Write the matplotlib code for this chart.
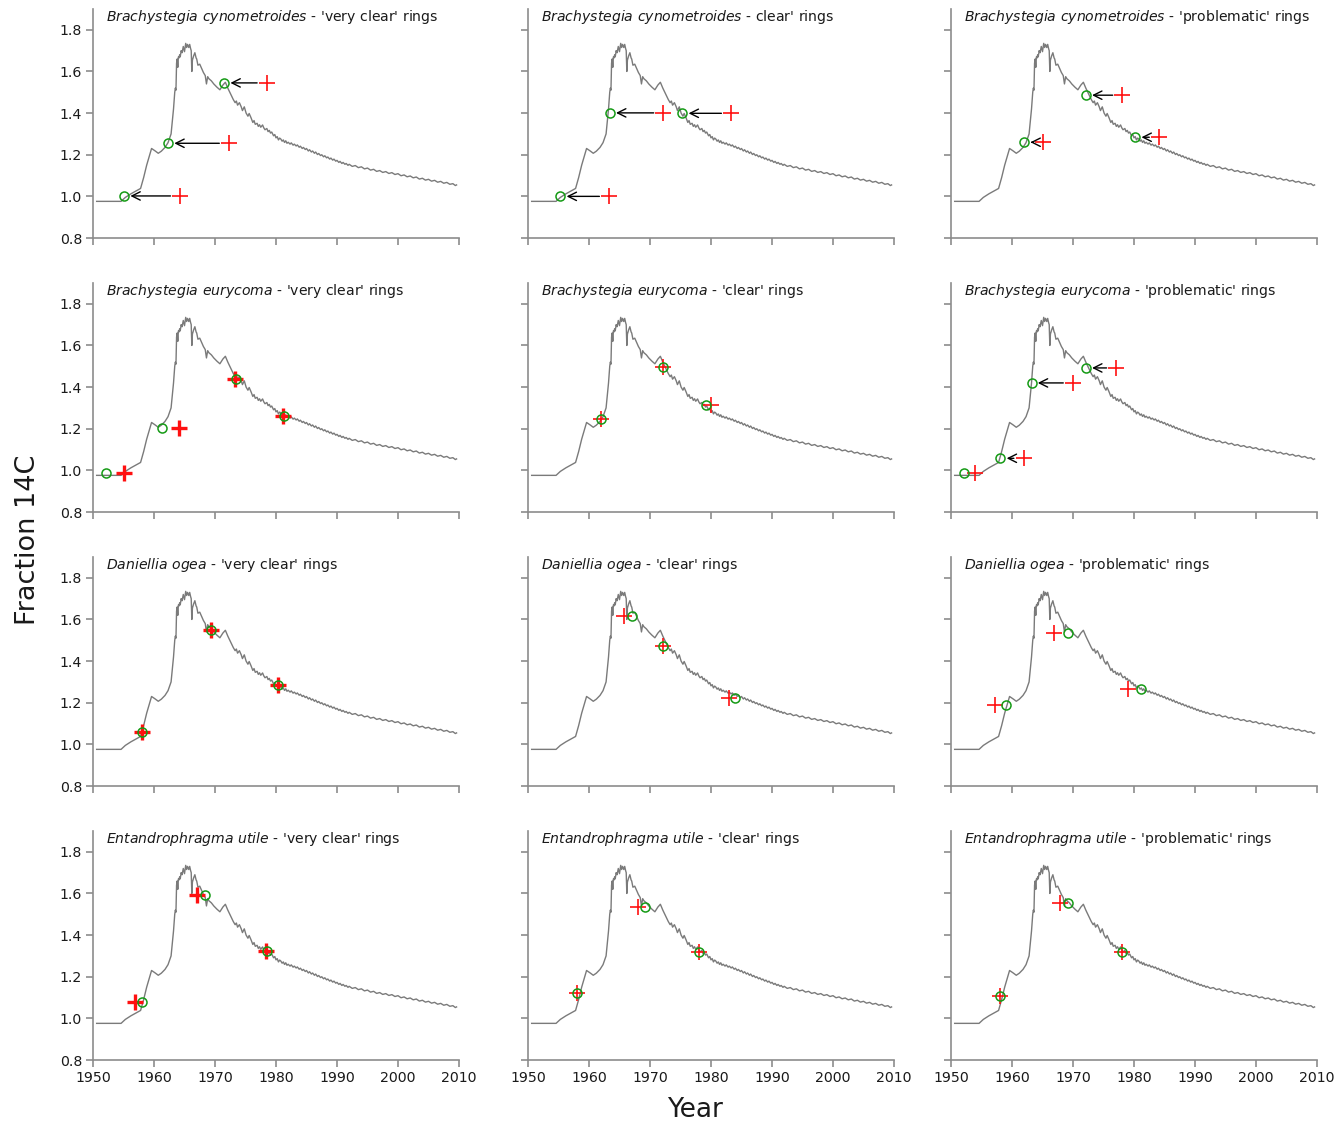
import matplotlib
matplotlib.use("Agg")
import matplotlib.pyplot as plt

# ---------------- atmospheric 14C curve ----------------
curve_year = [1950.6, 1954.6, 1955.3, 1956.2, 1957.0, 1957.8, 1958.3, 1958.8, 1959.3, 1959.6,
              1960.2, 1960.7, 1961.2, 1961.8, 1962.3, 1962.8, 1963.0, 1963.2, 1963.4, 1963.5,
              1963.6, 1963.7, 1963.8, 1963.9, 1964.0, 1964.1, 1964.2, 1964.3, 1964.45, 1964.6,
              1964.8, 1965.0, 1965.2, 1965.35, 1965.5, 1965.7, 1965.85, 1966.0, 1966.1, 1966.2,
              1966.3, 1966.5, 1966.7, 1966.9, 1967.0, 1967.2, 1967.5, 1967.8, 1968.1, 1968.4,
              1968.6, 1968.8, 1969.0, 1969.4, 1969.8, 1970.3, 1970.8, 1971.3, 1971.7, 1972.1,
              1972.6, 1973.0, 1973.3, 1973.5, 1973.7, 1974.0, 1974.3, 1974.5, 1974.8, 1975.1,
              1975.4, 1975.6, 1975.9,
              1976.2, 1976.4, 1976.6, 1976.9, 1977.1, 1977.3, 1977.5, 1977.8, 1978.0, 1978.2,
              1978.5, 1978.7, 1978.9, 1979.1, 1979.3, 1979.6, 1979.8, 1980.0, 1980.2, 1980.4,
              1980.6, 1980.8, 1981.0, 1981.2, 1981.4, 1981.6, 1981.8, 1982.0, 1982.3, 1982.5,
              1982.8, 1983.0, 1983.3, 1983.5, 1983.8, 1984.0, 1984.3, 1984.5, 1984.8, 1985.0,
              1985.3, 1985.5, 1985.8, 1986.0, 1986.3, 1986.5, 1986.8, 1987.0, 1987.3, 1987.5,
              1987.8, 1988.0, 1988.3, 1988.5, 1988.8, 1989.0, 1989.3, 1989.5, 1989.8, 1990.0,
              1990.3, 1990.5, 1990.8, 1991.0, 1991.3, 1991.5, 1991.8, 1992.0, 1992.5, 1993.0,
              1993.5, 1994.0, 1994.5, 1995.0, 1995.5, 1996.0, 1996.5, 1997.0, 1997.5, 1998.0,
              1998.5, 1999.0, 1999.5, 2000.0, 2000.5, 2001.0, 2001.5, 2002.0, 2002.5, 2003.0,
              2003.5, 2004.0, 2004.5, 2005.0, 2005.5, 2006.0, 2006.5, 2007.0, 2007.5, 2008.0,
              2008.5, 2009.0, 2009.4, 2009.6]
curve_f14c = [0.976, 0.976, 0.995, 1.012, 1.025, 1.038, 1.090, 1.150, 1.200, 1.230,
              1.218, 1.207, 1.217, 1.235, 1.258, 1.300, 1.360, 1.420, 1.500, 1.520,
              1.510, 1.640, 1.660, 1.620, 1.670, 1.665, 1.680, 1.670, 1.700, 1.690,
              1.720, 1.695, 1.735, 1.715, 1.730, 1.715, 1.730, 1.710, 1.700, 1.600,
              1.655, 1.675, 1.690, 1.665, 1.660, 1.630, 1.635, 1.615, 1.595, 1.580,
              1.540, 1.575, 1.565, 1.555, 1.540, 1.525, 1.512, 1.535, 1.548, 1.520,
              1.490, 1.465, 1.450, 1.458, 1.438, 1.450, 1.430, 1.412, 1.430, 1.400,
              1.385, 1.398, 1.378,
              1.355, 1.364, 1.346, 1.351, 1.336, 1.344, 1.332, 1.343, 1.329, 1.320,
              1.326, 1.311, 1.317, 1.304, 1.309, 1.291, 1.297, 1.281, 1.287, 1.271,
              1.280, 1.275, 1.265, 1.271, 1.259, 1.267, 1.255, 1.260, 1.251, 1.257,
              1.246, 1.251, 1.242, 1.247, 1.236, 1.241, 1.230, 1.235, 1.225, 1.230,
              1.218, 1.224, 1.213, 1.218, 1.207, 1.213, 1.201, 1.206, 1.196, 1.200,
              1.190, 1.195, 1.185, 1.189, 1.179, 1.184, 1.174, 1.179, 1.169, 1.173,
              1.163, 1.168, 1.158, 1.163, 1.154, 1.158, 1.149, 1.154, 1.144, 1.148,
              1.138, 1.142, 1.132, 1.136, 1.126, 1.130, 1.120, 1.124, 1.115, 1.119,
              1.110, 1.114, 1.105, 1.109, 1.099, 1.103, 1.094, 1.098, 1.089, 1.093,
              1.083, 1.087, 1.078, 1.082, 1.073, 1.077, 1.068, 1.072, 1.063, 1.067,
              1.058, 1.061, 1.052, 1.055]

# ---------------- panel titles ----------------
species = ["Brachystegia cynometroides", "Brachystegia eurycoma",
           "Daniellia ogea", "Entandrophragma utile"]
title_suffix = [
    ["'very clear' rings", "clear' rings", "'problematic' rings"],
    ["'very clear' rings", "'clear' rings", "'problematic' rings"],
    ["'very clear' rings", "'clear' rings", "'problematic' rings"],
    ["'very clear' rings", "'clear' rings", "'problematic' rings"],
]

# ---------------- ring-count dates (+) and curve dates (o) ----------------
# Brachystegia cynometroides
bc_vc_ring_year = [1964.3, 1972.3, 1978.5]
bc_vc_f14c = [1.002, 1.255, 1.545]
bc_vc_curve_year = [1955.1, 1962.3, 1971.5]
bc_vc_arrow = [True, True, True]

bc_c_ring_year = [1963.3, 1972.2, 1983.3]
bc_c_f14c = [1.000, 1.401, 1.399]
bc_c_curve_year = [1955.3, 1963.4, 1975.3]
bc_c_arrow = [True, True, True]

bc_p_ring_year = [1965.1, 1978.1, 1984.1]
bc_p_f14c = [1.260, 1.486, 1.284]
bc_p_curve_year = [1962.0, 1972.1, 1980.2]
bc_p_arrow = [True, True, True]

# Brachystegia eurycoma
be_vc_ring_year = [1955.0, 1964.1, 1973.2, 1981.1]
be_vc_f14c = [0.988, 1.203, 1.438, 1.262]
be_vc_curve_year = [1952.1, 1961.3, 1973.5, 1981.3]
be_vc_arrow = [False, False, False, False]

be_c_ring_year = [1962.0, 1972.1, 1980.0]
be_c_f14c = [1.249, 1.496, 1.312]
be_c_curve_year = [1962.0, 1972.2, 1979.2]
be_c_arrow = [False, False, False]

be_p_ring_year = [1953.9, 1961.9, 1970.0, 1977.1]
be_p_f14c = [0.985, 1.058, 1.420, 1.492]
be_p_curve_year = [1952.2, 1958.1, 1963.2, 1972.1]
be_p_arrow = [False, True, True, True]

# Daniellia ogea
do_vc_ring_year = [1958.0, 1969.3, 1980.3]
do_vc_f14c = [1.058, 1.548, 1.284]
do_vc_curve_year = [1958.1, 1969.3, 1980.4]
do_vc_arrow = [False, False, False]

do_c_ring_year = [1965.8, 1972.1, 1982.9]
do_c_f14c = [1.617, 1.473, 1.221]
do_c_curve_year = [1967.1, 1972.2, 1984.0]
do_c_arrow = [False, False, False]

do_p_ring_year = [1957.2, 1966.9, 1979.0]
do_p_f14c = [1.189, 1.535, 1.266]
do_p_curve_year = [1959.0, 1969.2, 1981.1]
do_p_arrow = [False, False, False]

# Entandrophragma utile
eu_vc_ring_year = [1956.9, 1967.1, 1978.4]
eu_vc_f14c = [1.081, 1.592, 1.322]
eu_vc_curve_year = [1958.1, 1968.3, 1978.6]
eu_vc_arrow = [False, False, False]

eu_c_ring_year = [1958.1, 1968.1, 1978.0]
eu_c_f14c = [1.122, 1.535, 1.320]
eu_c_curve_year = [1958.1, 1969.2, 1978.1]
eu_c_arrow = [False, False, False]

eu_p_ring_year = [1958.1, 1967.9, 1978.1]
eu_p_f14c = [1.106, 1.554, 1.318]
eu_p_curve_year = [1958.1, 1969.2, 1978.1]
eu_p_arrow = [False, False, False]

panels = [
    [(bc_vc_ring_year, bc_vc_f14c, bc_vc_curve_year, bc_vc_arrow),
     (bc_c_ring_year, bc_c_f14c, bc_c_curve_year, bc_c_arrow),
     (bc_p_ring_year, bc_p_f14c, bc_p_curve_year, bc_p_arrow)],
    [(be_vc_ring_year, be_vc_f14c, be_vc_curve_year, be_vc_arrow),
     (be_c_ring_year, be_c_f14c, be_c_curve_year, be_c_arrow),
     (be_p_ring_year, be_p_f14c, be_p_curve_year, be_p_arrow)],
    [(do_vc_ring_year, do_vc_f14c, do_vc_curve_year, do_vc_arrow),
     (do_c_ring_year, do_c_f14c, do_c_curve_year, do_c_arrow),
     (do_p_ring_year, do_p_f14c, do_p_curve_year, do_p_arrow)],
    [(eu_vc_ring_year, eu_vc_f14c, eu_vc_curve_year, eu_vc_arrow),
     (eu_c_ring_year, eu_c_f14c, eu_c_curve_year, eu_c_arrow),
     (eu_p_ring_year, eu_p_f14c, eu_p_curve_year, eu_p_arrow)],
]

x_ticks = [1950, 1960, 1970, 1980, 1990, 2000, 2010]
y_ticks = [0.8, 1.0, 1.2, 1.4, 1.6, 1.8]

# ---------------- layout / style ----------------
W, H = 1339, 1126
fig = plt.figure(figsize=(W / 100, H / 100), dpi=100)
plt.rcParams["font.family"] = ["DejaVu Sans"]

col_left = [93, 528, 951]
col_width = 366
row_bottom = [238, 512, 786, 1060]
ax_height = 229

spine_col = "#8c8c8c"
curve_col = "#7a7a7a"
plus_col = "#ff1010"
circ_col = "#159a15"
thick_plus = [[False, False, False], [True, False, False],
              [True, False, False], [True, False, False]]

for r in range(4):
    for c in range(3):
        ax = fig.add_axes([col_left[c] / W, 1 - row_bottom[r] / H,
                           col_width / W, ax_height / H])
        ax.plot(curve_year, curve_f14c, color=curve_col, lw=1.0, zorder=2)
        ring_y, f14c, cal_y, arrows = panels[r][c]
        mew = 2.4 if thick_plus[r][c] else 1.2
        ax.plot(ring_y, f14c, linestyle="none", marker="+", ms=12, mew=mew,
                color=plus_col, zorder=3)
        ax.plot(cal_y, f14c, linestyle="none", marker="o", ms=6.5, mew=1.1,
                mfc="none", mec=circ_col, zorder=4)
        for xr, xc, fv, a in zip(ring_y, cal_y, f14c, arrows):
            if a:
                ax.annotate("", xy=(xc, fv), xytext=(xr, fv),
                            arrowprops=dict(arrowstyle="->,head_length=0.6,head_width=0.3",
                                            color="black", lw=1.0,
                                            shrinkA=7, shrinkB=4.5),
                            zorder=5)
        ax.set_xlim(1950, 2010)
        ax.set_ylim(0.8, 1.9)
        ax.set_xticks(x_ticks)
        ax.set_yticks(y_ticks)
        for s in ["top", "right"]:
            ax.spines[s].set_visible(False)
        for s in ["left", "bottom"]:
            ax.spines[s].set_color(spine_col)
            ax.spines[s].set_linewidth(1.2)
        ax.tick_params(direction="out", length=5, width=1.2, color=spine_col,
                       labelsize=10.2, labelcolor="#1a1a1a", pad=3)
        if c == 0:
            ax.set_yticklabels([f"{v:.1f}" for v in y_ticks])
        else:
            ax.set_yticklabels([])
        if r == 3:
            ax.set_xticklabels([str(v) for v in x_ticks])
        else:
            ax.set_xticklabels([])
        sp = species[r].replace(" ", r"\ ")
        ax.text(0.035, 0.966, r"$\it{" + sp + r"}$" + " - " + title_suffix[r][c],
                transform=ax.transAxes, fontsize=10.1, va="center", ha="left",
                color="#1a1a1a")

fig.text(28 / W, 1 - 540 / H, "Fraction 14C", rotation=90, fontsize=19.5,
         va="center", ha="center", color="#1a1a1a")
fig.text(695 / W, 1 - 1110 / H, "Year", fontsize=19, va="center", ha="center",
         color="#1a1a1a")

fig.savefig("out.png", dpi=100)
